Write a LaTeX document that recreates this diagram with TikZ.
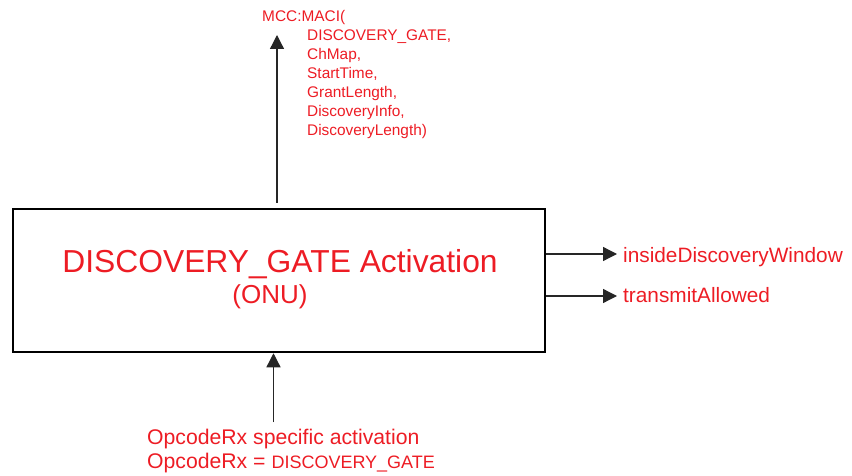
\documentclass[tikz,border=0pt]{standalone}
\usepackage{fontspec}
\setmainfont{Liberation Sans}
\usetikzlibrary{arrows.meta}
\definecolor{lblred}{RGB}{237,28,36}

\tikzset{
  lbl/.style={text=lblred, inner sep=0pt},
  flecha/.style={-{Triangle[length=14pt,width=14pt]}, line width=1.3pt, draw=black!85, fill=black},
}

\begin{document}
\begin{tikzpicture}[x=1pt,y=-1pt]
    \useasboundingbox (0,0) rectangle (852,476);
    % Bloco central
    \node[draw, line width=2.5pt, minimum width=532pt, minimum height=143pt, inner sep=0pt] (box) at (279,280.5) {};
    \node[lbl, anchor=base, font=\fontsize{31.8}{36}\selectfont] (title) at (280,272) {DISCOVERY\_GATE Activation};
    \node[lbl, anchor=base, font=\fontsize{26}{30}\selectfont] (onu) at (270,303) {(ONU)};

    % Saida para cima
    \node[lbl, anchor=north west, align=left, font=\fontsize{15.4}{19}\selectfont] (mcc) at (262,10)
      {MCC:MACI(\\\hspace*{45pt}DISCOVERY\_GATE,\\\hspace*{45pt}ChMap,\\\hspace*{45pt}StartTime,\\\hspace*{45pt}GrantLength,\\\hspace*{45pt}DiscoveryInfo,\\\hspace*{45pt}DiscoveryLength)};
    \coordinate (mcctip) at (277,35);
    \coordinate (mcctail) at (277,203);
    \draw[flecha] (mcctail) -- (mcctip);

    % Saidas a direita
    \node[lbl, anchor=base west, font=\fontsize{20.8}{24}\selectfont] (win) at (623,262) {insideDiscoveryWindow};
    \node[lbl, anchor=base west, font=\fontsize{20.8}{24}\selectfont] (tx) at (623,302) {transmitAllowed};
    \coordinate (wintip) at (617,254);
    \coordinate (txtip) at (617,296);
    \draw[flecha] (box.east |- wintip) -- (wintip);
    \draw[flecha] (box.east |- txtip) -- (txtip);

    % Entrada por baixo
    \node[lbl, anchor=north west, align=left, font=\fontsize{21.2}{24}\selectfont] (opc) at (147,428.5)
      {OpcodeRx specific activation\\OpcodeRx = {\fontsize{18}{24}\selectfont DISCOVERY\_GATE}};
    \coordinate (opctail) at (273.5,422);
    \draw[flecha] (opctail) -- (opctail |- box.south);
\end{tikzpicture}
\end{document}
